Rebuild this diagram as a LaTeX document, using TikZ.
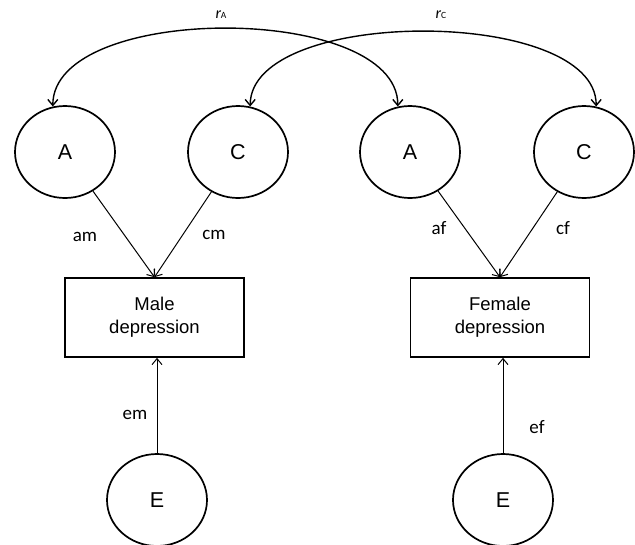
\documentclass[tikz,border=0pt]{standalone}
\usepackage{fontspec}
\setmainfont{Liberation Sans}
\newfontfamily\calfont{Carlito}
\usetikzlibrary{shapes.geometric,arrows.meta}
\tikzset{
  latent/.style={ellipse,draw,line width=1.7pt,minimum width=100pt,minimum height=92pt,inner sep=0pt,font=\fontsize{21.5}{24}\selectfont},
  obsbox/.style={rectangle,draw,line width=1.7pt,minimum width=179pt,minimum height=79pt,align=center,inner sep=0pt,font=\fontsize{18.5}{23}\selectfont},
  arr/.style={line width=1pt,-{Straight Barb[length=6pt,width=10pt]}},
  corr/.style={line width=1.4pt,{Straight Barb[length=6pt,width=10pt]}-{Straight Barb[length=6pt,width=10pt]}},
  lbl/.style={inner sep=0pt,font=\calfont\fontsize{19}{22}\selectfont},
}
\begin{document}
\begin{tikzpicture}[x=1pt,y=-1pt]
\useasboundingbox (0,0) rectangle (635,544);
\node[latent] (A1) at (65,152) {A};
\node[latent] (C1) at (238,152) {C};
\node[latent] (A2) at (410,152) {A};
\node[latent] (C2) at (584,152) {C};
\node[obsbox] (male) at (154.5,317.5) {Male\\depression};
\node[obsbox] (fem) at (500,317.5) {Female\\depression};
\node[latent] (E1) at (157,500) {E};
\node[latent] (E2) at (503,500) {E};
\draw[arr] (A1) -- (male.north);
\draw[arr] (C1) -- (male.north);
\draw[arr] (A2) -- (fem.north);
\draw[arr] (C2) -- (fem.north);
\draw[arr] (E1.north) -- (E1.north |- male.south);
\draw[arr] (E2.north) -- (E2.north |- fem.south);
\draw[corr] (A1.105) .. controls +(0,-104) and +(0,-104) .. (A2.105);
\draw[corr] (C1.75) .. controls +(0,-100) and +(0,-100) .. (C2.75);
\node[inner sep=0pt] (rA) at (221,15) {\calfont\fontsize{16}{18}\selectfont\itshape r\upshape\fontsize{9.5}{11}\selectfont A};
\node[inner sep=0pt] (rC) at (441,15) {\calfont\fontsize{16}{18}\selectfont\itshape r\upshape\fontsize{9.5}{11}\selectfont C};
\node[lbl] (am) at (85,236.5) {am};
\node[lbl] (cm) at (214,235) {cm};
\node[lbl] (af) at (439,228) {af};
\node[lbl] (cf) at (563,228) {cf};
\node[lbl] (em) at (135,415) {em};
\node[lbl] (ef) at (537,427) {ef};
\end{tikzpicture}
\end{document}
